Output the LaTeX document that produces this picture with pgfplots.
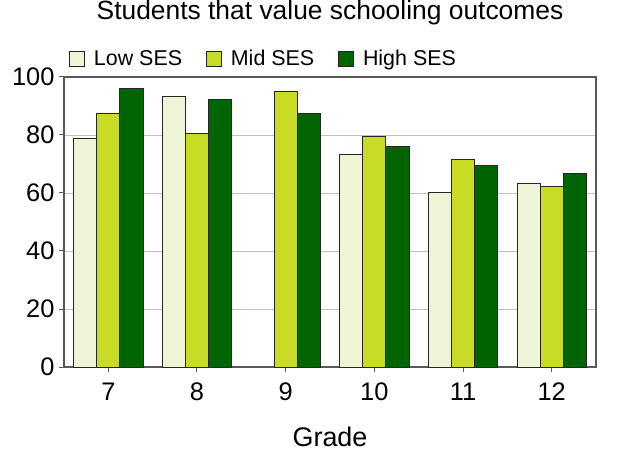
\documentclass[border=0pt]{standalone}
\usepackage{pgfplots}
\pgfplotsset{compat=1.18}
\usepackage{fontspec}
\setmainfont{Liberation Sans}
\definecolor{lowc}{HTML}{EEF4D6}
\definecolor{midc}{HTML}{C8DC26}
\definecolor{highc}{HTML}{006400}
\begin{document}
\begin{tikzpicture}
\path[use as bounding box] (-64bp,-93bp) rectangle (571bp,367bp);
\begin{axis}[
  scale only axis, width=532bp, height=290bp,
  at={(0,0)}, anchor=south west,
  xmin=6.5, xmax=12.5, ymin=0, ymax=100,
  xtick={7,8,9,10,11,12}, ytick={0,20,40,60,80,100},
  ybar=0pt, bar width=0.26,
  ymajorgrids, grid style={draw=black!25, line width=0.8bp},
  axis line style={draw=black!65, line width=1.2bp},
  tick style={draw=black!65, line width=1bp},
  tick align=outside, major tick length=5bp,
  xtick pos=bottom, ytick pos=left,
  ticklabel style={font=\fontsize{25.5}{25.5}\selectfont},
  xticklabel style={yshift=-7bp},
  yticklabel style={xshift=-1bp},
  /pgf/number format/assume math mode=true,
  xlabel={Grade},
  xlabel style={font=\fontsize{27}{27}\selectfont, at={(axis description cs:0.5,0)}, anchor=center, yshift=-70bp},
  title={Students that value schooling outcomes},
  title style={font=\fontsize{26.5}{26.5}\selectfont, at={(axis description cs:0.5,1)}, anchor=center, yshift=58bp},
  legend columns=3,
  legend cell align=left,
  legend style={draw=none, fill=none, at={(axis description cs:0,1)}, anchor=west, xshift=5bp, yshift=18.5bp, inner sep=0pt,
    font=\fontsize{21.5}{21.5}\selectfont,
    nodes={inner xsep=0pt},
    /tikz/every odd column/.append style={column sep=9bp},
    /tikz/every even column/.append style={column sep=24bp}},
  legend image code/.code={\draw[#1, draw=black!85, line width=0.8bp] (0bp,-7.5bp) rectangle (15bp,7.5bp);},
  every axis plot/.append style={draw=black!85, line width=0.8bp},
]
\addplot[fill=lowc, bar shift=-0.26] coordinates {(7,78.7) (8,93.3) (10,73.3) (11,60.1) (12,63.2)};
\addplot[fill=midc, bar shift=0] coordinates {(7,87.6) (8,80.4) (9,95.1) (10,79.6) (11,71.6) (12,62.3)};
\addplot[fill=highc, bar shift=0.26] coordinates {(7,95.9) (8,92.3) (9,87.5) (10,76.0) (11,69.4) (12,66.7)};
\legend{Low SES, Mid SES, High SES}
\end{axis}
\end{tikzpicture}
\end{document}
